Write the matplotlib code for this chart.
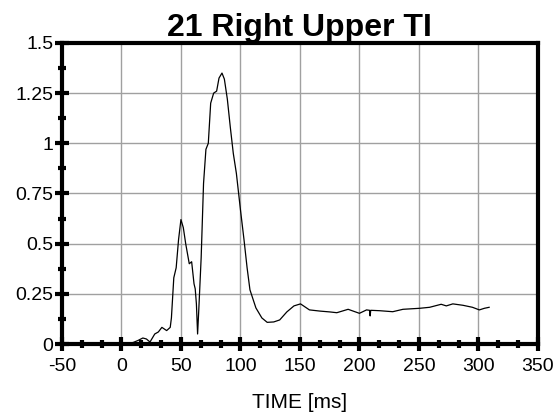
import matplotlib
matplotlib.use("Agg")
import matplotlib.pyplot as plt
import numpy as np
from matplotlib.ticker import MultipleLocator

plt.rcParams['font.family'] = ['Liberation Sans', 'DejaVu Sans']
plt.rcParams['axes.unicode_minus'] = False

# trace (time in ms, value)
time_ms = [0, 5, 10, 14, 18, 21, 24, 28, 31, 34, 38, 41, 42, 44, 46, 48, 50,
           52, 54, 57, 59, 61, 62, 63, 64, 65, 67, 69, 71, 73, 75, 77.5, 80,
           82, 84.5, 86.5, 89, 91.5, 94, 96.6, 100, 103, 105.6, 108, 113,
           118, 122.5, 128, 133, 139, 145, 150.5, 158, 167, 175, 181, 190.5,
           200, 206, 208.5, 209, 209.5, 217, 228, 236.6, 250.6, 259, 268.7,
           273, 278.5, 287, 295, 300.8, 305, 309]
value = [0.0, 0.002, 0.008, 0.018, 0.03, 0.025, 0.01, 0.05, 0.06, 0.083, 0.067,
         0.083, 0.13, 0.33, 0.38, 0.52, 0.62,
         0.58, 0.50, 0.40, 0.41, 0.30, 0.275, 0.20, 0.05, 0.17, 0.43, 0.80,
         0.97, 1.0, 1.2, 1.25, 1.26,
         1.325, 1.35, 1.32, 1.22, 1.08, 0.95, 0.85, 0.67, 0.52, 0.38, 0.27,
         0.18, 0.13, 0.108, 0.11, 0.12, 0.16, 0.19, 0.20, 0.17, 0.164, 0.16,
         0.156, 0.173, 0.153, 0.17, 0.168, 0.14, 0.168, 0.166, 0.161, 0.173,
         0.178, 0.183, 0.198, 0.19, 0.20, 0.193, 0.183, 0.17, 0.178, 0.183]

yticks = [0, 0.25, 0.5, 0.75, 1.0, 1.25, 1.5]
ytick_labels = ['0', '0.25', '0.5', '0.75', '1', '1.25', '1.5']
title = "21 Right Upper TI"
xlabel = "TIME [ms]"

fig = plt.figure(figsize=(5.58, 4.17), dpi=100)
ax = fig.add_axes([0.111, 0.175, 0.853, 0.722])

ax.plot(time_ms, value, color='black', lw=0.9)

ax.set_xlim(-50, 350)
ax.set_ylim(0, 1.5)
ax.xaxis.set_major_locator(MultipleLocator(50))
ax.xaxis.set_minor_locator(MultipleLocator(50 / 3))
ax.yaxis.set_minor_locator(MultipleLocator(0.125))
ax.set_yticks(yticks)
ax.set_yticklabels(ytick_labels)

ax.grid(True, which='major', color='#a0a0a0', lw=1)
for s in ax.spines.values():
    s.set_linewidth(3)
ax.tick_params(which='major', direction='inout', length=10, width=3,
               labelsize=14)
ax.tick_params(which='minor', direction='inout', length=6, width=3)
ax.tick_params(axis='x', which='major', pad=5)
ax.tick_params(axis='y', which='major', pad=1)

ax.set_title(title, fontsize=23, fontweight='bold', pad=3)
ax.set_xlabel(xlabel, fontsize=15, labelpad=13)

fig.savefig("out.png", dpi=100)
